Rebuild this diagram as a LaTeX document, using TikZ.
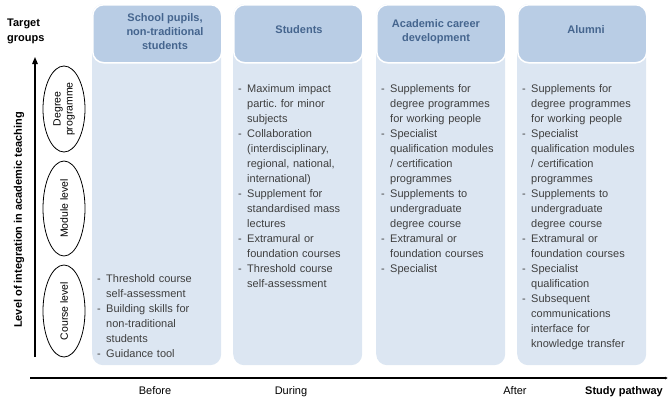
\documentclass[tikz,border=0pt]{standalone}
\usepackage{fontspec}
\setmainfont{Liberation Sans}
\usetikzlibrary{arrows.meta,shapes.geometric}
\definecolor{hdr}{HTML}{B9CDE5}
\definecolor{bdy}{HTML}{DCE6F2}
\definecolor{hdrtxt}{HTML}{45658E}
\definecolor{bodytxt}{HTML}{3F3F3F}
\frenchspacing
\newcommand{\dd}{\par\hangindent=9pt\hangafter=1\noindent\strut\makebox[9pt][l]{-}}
\tikzset{
  colbody/.style={fill=bdy, rounded corners=11pt, minimum width=129pt, minimum height=361pt, anchor=north west, inner sep=0pt},
  colhead/.style={fill=hdr, draw=white, line width=1.5pt, rounded corners=11pt, minimum width=129pt, minimum height=58pt, anchor=north west, inner sep=0pt},
  headtxt/.style={text=hdrtxt, font=\fontsize{11}{14}\selectfont\bfseries, align=center, inner sep=0pt},
  bodylist/.style={text=bodytxt, font=\fontsize{11}{15}\selectfont\frenchspacing, text width=130pt, anchor=base west, inner sep=0pt},
  levell/.style={draw=black, line width=0.8pt, ellipse, rotate=90, minimum height=42pt, inner sep=0pt, font=\fontsize{10.5}{12}\selectfont, align=center},
  axis/.style={line width=1.3pt, draw=black},
  steplabel/.style={font=\fontsize{11}{13}\selectfont, anchor=base, inner sep=0pt}
}
\begin{document}
\begin{tikzpicture}[x=1pt,y=-1pt]
\useasboundingbox (0,0) rectangle (669,399);
% columns
\node[colbody] (b1) at (92,4) {};
\node[colbody] (b2) at (233,4) {};
\node[colbody] (b3) at (376,4) {};
\node[colbody] (b4) at (517,4) {};
\node[colhead] (h1) at (92,4) {};
\node[colhead] (h2) at (233,4) {};
\node[colhead] (h3) at (376,4) {};
\node[colhead] (h4) at (517,4) {};
% header texts
\node[headtxt] (t1) at (165,32) {School pupils,\\non-traditional\\students};
\node[headtxt] (t2) at (299,29.5) {Students};
\node[headtxt] (t3) at (436,31.5) {Academic career\\development};
\node[headtxt] (t4) at (586,30) {Alumni};
% body texts
\node[bodylist] (l1) at (97,267.5) {%
\dd Threshold course\newline self-assessment
\dd Building skills for\newline non-traditional\newline students
\dd Guidance tool\par};
\node[bodylist] (l2) at (238,77.5) {%
\dd Maximum impact\newline partic. for minor\newline subjects
\dd Collaboration\newline (interdisciplinary,\newline regional, national,\newline international)
\dd Supplement for\newline standardised mass\newline lectures
\dd Extramural or\newline foundation courses
\dd Threshold course\newline self-assessment\par};
\node[bodylist] (l3) at (381,77.5) {%
\dd Supplements for\newline degree programmes\newline for working people
\dd Specialist\newline qualification modules\newline / certification\newline programmes
\dd Supplements to\newline undergraduate\newline degree course
\dd Extramural or\newline foundation courses
\dd Specialist\par};
\node[bodylist] (l4) at (522,77.5) {%
\dd Supplements for\newline degree programmes\newline for working people
\dd Specialist\newline qualification modules\newline / certification\newline programmes
\dd Supplements to\newline undergraduate\newline degree course
\dd Extramural or\newline foundation courses
\dd Specialist\newline qualification
\dd Subsequent\newline communications\newline interface for\newline knowledge transfer\par};
% left axis
\coordinate (vbot) at (35,357);
\coordinate (vtop) at (35,57);
\draw[axis, -{Triangle[length=7pt,width=5.5pt]}] (vbot) -- (vtop);
\node[font=\fontsize{11}{15}\selectfont\bfseries, align=left, anchor=north west, inner sep=0pt] (tg) at (7,18.5) {Target\\groups};
\node[font=\fontsize{11}{13}\selectfont\bfseries, rotate=90, inner sep=0pt] (lvl) at (19,220) {Level of integration in academic teaching};
\node[levell, minimum width=86pt] (deg) at (64,109) {Degree\\programme};
\node[levell, minimum width=95pt] (mod) at (64,208.5) {Module level};
\node[levell, minimum width=92pt] (crs) at (64,311) {Course level};
% bottom axis
\coordinate (hl) at (30,378);
\coordinate (hr) at (668,378);
\draw[axis, -{Latex[length=3pt,width=3pt]}] (hl) -- (hr);
\node[steplabel] (bef) at (155,394) {Before};
\node[steplabel] (dur) at (291,394) {During};
\node[steplabel] (aft) at (515,394) {After};
\node[steplabel, font=\fontsize{11}{13}\selectfont\bfseries] (sp) at (624,394) {Study pathway};
\end{tikzpicture}
\end{document}
